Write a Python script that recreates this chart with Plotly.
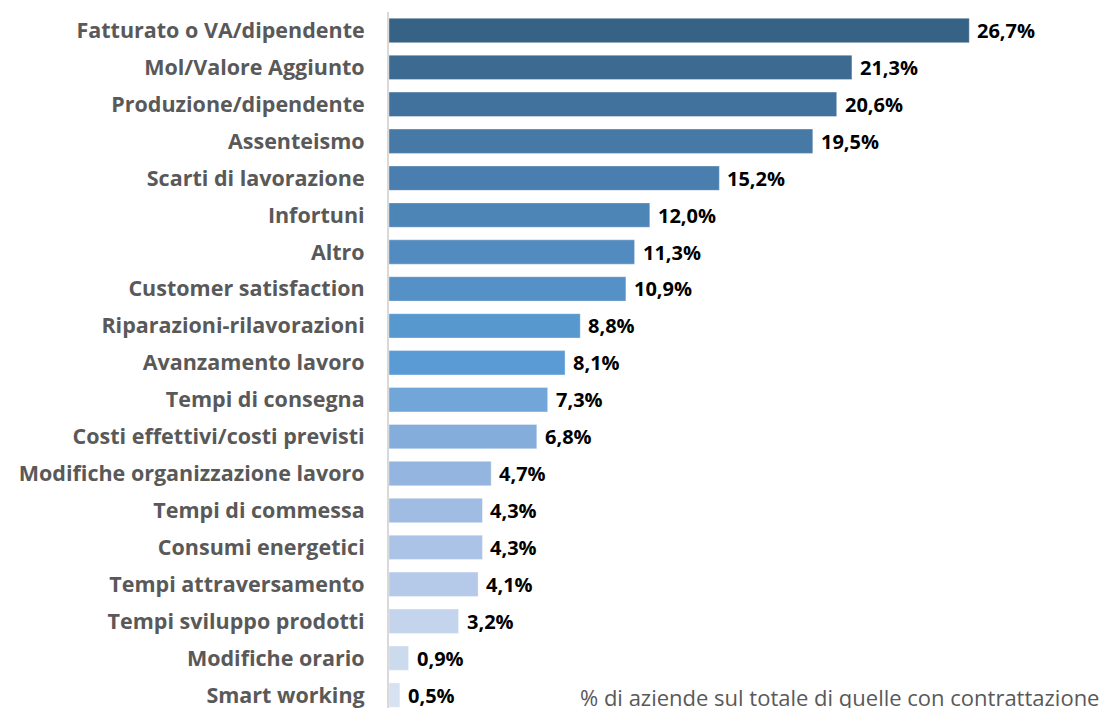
import plotly.graph_objects as go

categories = [
    "Fatturato o VA/dipendente", "Mol/Valore Aggiunto", "Produzione/dipendente",
    "Assenteismo", "Scarti di lavorazione", "Infortuni", "Altro",
    "Customer satisfaction", "Riparazioni-rilavorazioni", "Avanzamento lavoro",
    "Tempi di consegna", "Costi effettivi/costi previsti",
    "Modifiche organizzazione lavoro", "Tempi di commessa", "Consumi energetici",
    "Tempi attraversamento", "Tempi sviluppo prodotti", "Modifiche orario",
    "Smart working",
]
values = [26.7, 21.3, 20.6, 19.5, 15.2, 12.0, 11.3, 10.9, 8.8, 8.1, 7.3, 6.8,
          4.7, 4.3, 4.3, 4.1, 3.2, 0.9, 0.5]
note = "% di aziende sul totale di quelle con contrattazione"

colors = ["#366285", "#3D6A91", "#41729E", "#4679A6", "#4A7EAE", "#4E85B7",
          "#528BC0", "#5590C6", "#5798CF", "#5B9BD5", "#72A5D8", "#84ADDC",
          "#93B5DF", "#A0BCE2", "#AAC3E6", "#B4CAE8", "#C3D4EC", "#CCDAEE",
          "#D6E1F1"]

pos = list(range(len(categories)))
labels = [f"{v:.1f}%".replace(".", ",") for v in values]

fig = go.Figure(go.Bar(
    x=values, y=pos, orientation="h",
    marker=dict(color=colors, line=dict(color="rgba(255,255,255,0.35)", width=1)),
    width=0.66, hoverinfo="x+y",
))

for v, p, t in zip(values, pos, labels):
    fig.add_annotation(
        x=v, y=p, xref="x", yref="y", text=t, showarrow=False,
        xanchor="left", yanchor="middle", xshift=6,
        font=dict(family="Open Sans", size=20, color="#000000", weight="bold"),
    )

fig.update_layout(
    width=1103, height=700,
    margin=dict(l=381, r=70, t=4, b=0),
    plot_bgcolor="white", paper_bgcolor="white",
    showlegend=False,
    font=dict(family="Open Sans"),
)
fig.update_xaxes(range=[0, 30], visible=False)
fig.update_yaxes(
    tickvals=pos, ticktext=categories, range=[18.35, -0.5],
    showline=True, linecolor="#D9D9D9", linewidth=2,
    showgrid=False, zeroline=False, ticks="",
    ticklabelstandoff=18, ticklabeloverflow="allow",
    tickfont=dict(family="Open Sans", size=21.5, color="#595959", weight="bold"),
)
fig.add_annotation(
    x=8.70, y=18.05, xref="x", yref="y", text=note, showarrow=False,
    xanchor="left", yanchor="middle",
    font=dict(family="Open Sans", size=22, color="#595959"),
)
fig.write_html("out.html")
